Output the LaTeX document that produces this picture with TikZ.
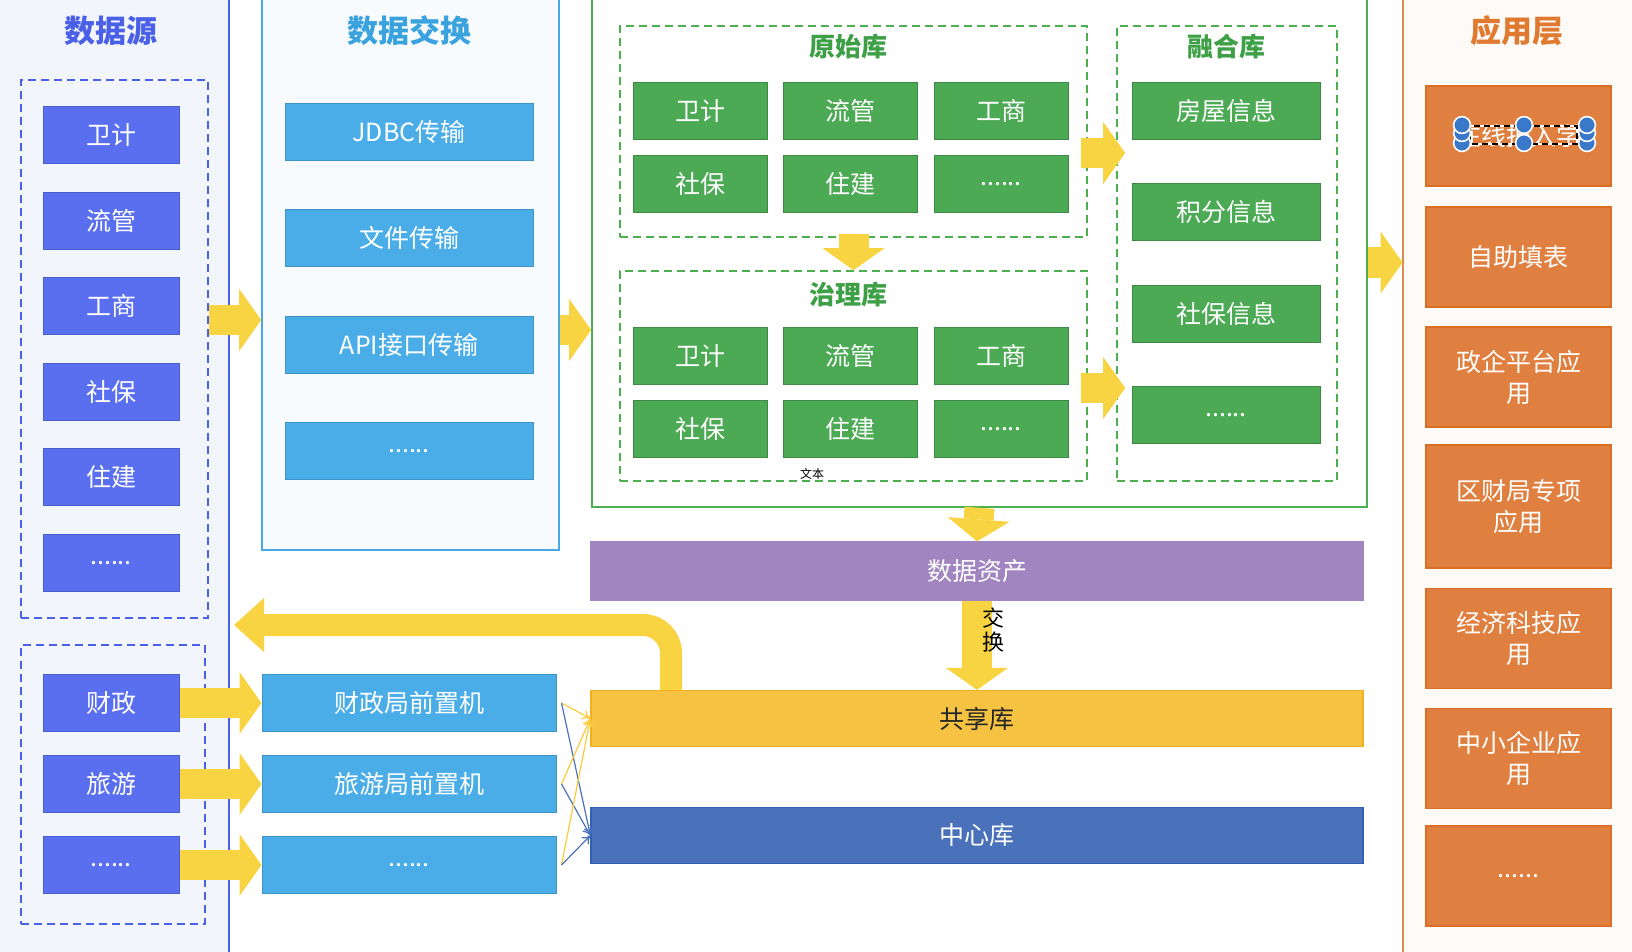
\documentclass[tikz,border=0pt]{standalone}
\usepackage{fontspec}
\setmainfont{Noto Sans CJK SC}
\usetikzlibrary{arrows.meta,positioning}

\definecolor{srcbg}{HTML}{F3F5FD}
\definecolor{srcblue}{HTML}{4A60E6}
\definecolor{srcfill}{HTML}{5A6FF0}
\definecolor{xchbg}{HTML}{F7FBFE}
\definecolor{xchedge}{HTML}{4AA8E6}
\definecolor{xchfill}{HTML}{4AADE8}
\definecolor{xchtitle}{HTML}{3AA3DE}
\definecolor{grnedge}{HTML}{4CAF50}
\definecolor{grnfill}{HTML}{4CAA55}
\definecolor{grntitle}{HTML}{3DA046}
\definecolor{assetfill}{HTML}{A085C0}
\definecolor{sharefill}{HTML}{F5C242}
\definecolor{shareedge}{HTML}{F2B01E}
\definecolor{corefill}{HTML}{4A72BA}
\definecolor{coreedge}{HTML}{2F60B5}
\definecolor{appbg}{HTML}{FEFAF7}
\definecolor{appfill}{HTML}{E08040}
\definecolor{appedge}{HTML}{DB6E24}
\definecolor{apptitle}{HTML}{E07A30}
\definecolor{flowyellow}{HTML}{F8D443}
\definecolor{handleblue}{HTML}{3A78C9}

\newcommand{\more}{......}

\tikzset{
  panel/.style={inner sep=0pt},
  group/.style={draw=#1, dashed, dash pattern=on 4pt off 2.5pt, line width=0.8pt, inner sep=0pt},
  title/.style={font=\fontsize{15.5}{18}\selectfont\bfseries},
  subtitle/.style={font=\fontsize{13}{15}\selectfont\bfseries, text=grntitle},
  srcbox/.style={fill=srcfill, draw=srcfill!85!black, line width=0.5pt, text=white,
    minimum width=68pt, minimum height=28.5pt, inner sep=0pt},
  xchbox/.style={fill=xchfill, draw=xchfill!85!black, line width=0.5pt, text=white,
    minimum height=28.5pt, inner sep=0pt},
  grnbox/.style={fill=grnfill, draw=grnfill!80!black, line width=0.5pt, text=white,
    minimum width=67pt, minimum height=28.5pt, inner sep=0pt},
  bar/.style={minimum width=386pt, minimum height=28pt, inner sep=0pt, line width=0.6pt},
  appbox/.style={fill=appfill, draw=appedge, line width=0.6pt, text=white, align=center,
    minimum width=92.5pt, inner sep=0pt},
  flow/.style={draw=flowyellow, line width=15pt, -{Triangle[length=11pt,width=31pt,line width=0pt]}},
  thinflow/.style={line width=0.6pt, -{To[length=4pt,width=5pt]}},
  handle/.style={fill=handleblue, draw=white, line width=0.8pt}
}

\begin{document}
\begin{tikzpicture}[x=0.5pt,y=-0.5pt,font=\fontsize{12.5}{15.5}\selectfont]
\useasboundingbox (0,0) rectangle (1632,952);

\node[panel, fill=srcbg, minimum width=114.5pt, minimum height=476pt] (srcP) at (114.5,476) {};
\draw[srcblue, line width=1pt] (srcP.north east) -- (srcP.south east);
\node[panel, fill=xchbg, draw=xchedge, line width=0.8pt, minimum width=148.5pt, minimum height=276pt] (xchP) at (410.5,274) {};
\node[panel, fill=white, draw=grnedge, line width=0.8pt, minimum width=387.5pt, minimum height=254.5pt] (grnP) at (979.5,252.5) {};
\node[panel, fill=appbg, minimum width=114.5pt, minimum height=476pt] (appP) at (1517.5,476) {};
\draw[appedge!80, line width=1pt] (appP.north west) -- (appP.south west);

\node[title, text=srcblue] (srcT) at (111,31) {数据源};
\node[title, text=xchtitle] (xchT) at (409,31) {数据交换};
\node[title, text=apptitle] (appT) at (1517,31) {应用层};

\node[group=srcblue, minimum width=93.5pt, minimum height=269pt] (g1) at (114.5,349) {};
\node[group=srcblue, minimum width=92pt, minimum height=139.5pt] (g2) at (113,784.5) {};
\node[group=grnedge, minimum width=233.5pt, minimum height=105.5pt] (raw) at (853.5,131.5) {};
\node[group=grnedge, minimum width=233.5pt, minimum height=105pt] (gov) at (853.5,376) {};
\node[group=grnedge, minimum width=110pt, minimum height=227.5pt] (fuse) at (1227,253.5) {};
\node[subtitle] (rawT) at (848,47) {原始库};
\node[subtitle] (govT) at (848,295) {治理库};
\node[subtitle] (fuseT) at (1226,47) {融合库};

\foreach \t [count=\i] in {卫计,流管,工商,社保,住建,\more}
  \node[srcbox] (src\i) at ({111},{135+85.6*(\i-1)}) {\t};
\foreach \t [count=\i] in {财政,旅游,\more}
  \node[srcbox] (dep\i) at ({111},{703+81*(\i-1)}) {\t};

\foreach \t [count=\i] in {JDBC传输,文件传输,API接口传输,\more}
  \node[xchbox, minimum width=124pt] (xch\i) at ({409},{132+106.3*(\i-1)}) {\t};
\foreach \t [count=\i] in {财政局前置机,旅游局前置机,\more}
  \node[xchbox, minimum width=147pt] (pre\i) at ({409},{703+81*(\i-1)}) {\t};

\foreach \t [count=\i from 0] in {卫计,流管,工商,社保,住建,\more}{
  \pgfmathsetmacro\cx{700+150.5*mod(\i,3)}
  \pgfmathsetmacro\cy{111+73*int(\i/3)}
  \node[grnbox] (raw\i) at ({\cx},{\cy}) {\t};
  \node[grnbox] (gov\i) at ({\cx},{\cy+245}) {\t};
}
\foreach \t [count=\i] in {房屋信息,积分信息,社保信息,\more}
  \node[grnbox, minimum width=94pt] (fuse\i) at ({1226},{111+101.3*(\i-1)}) {\t};
\node[font=\fontsize{6}{7}\selectfont] (memo) at (812,474) {文本};

\node[bar, fill=assetfill, draw=assetfill, text=white, minimum height=29pt] (asset) at (977,571) {数据资产};
\node[bar, fill=sharefill, draw=shareedge, text=black!85] (share) at (977,718.5) {共享库};
\node[bar, fill=corefill, draw=coreedge, text=white] (core) at (977,835.5) {中心库};

\foreach \y/\h/\t [count=\i] in {136/50/在线报入学, 257/50/自助填表, 377/50/{政企平台应\\用},
    506.5/61.5/{区财局专项\\应用}, 638.5/50/{经济科技应\\用}, 758.5/50/{中小企业应\\用}, 876/50/\more}
  \node[appbox, minimum height=\h pt] (app\i) at (1518.5,\y) {\t};

\draw[white, line width=1pt] (1470,126) rectangle (1577,144);
\draw[black, line width=0.6pt, dash pattern=on 3pt off 2pt] (1470,126) rectangle (1577,144);
\foreach \hx/\hy in {1462/143,1462/133,1462/125,1524/143,1524/125,1587/143,1587/133,1587/125}
  \draw[handle] (\hx,\hy) circle[radius=4.2pt];

\draw[flow] ([yshift=14.5pt]g1.east) -- ([yshift=14.5pt]g1.east -| xchP.west);
\draw[flow] ([yshift=-28pt]xchP.east) -- ([yshift=-28pt]xchP.east -| grnP.west);
\draw[flow, shorten <=-3.5pt, shorten >=-4.5pt] ([yshift=-10.75pt]raw.east) -- ([yshift=-10.75pt]raw.east -| fuse.west);
\draw[flow, shorten <=-3.5pt, shorten >=-4.5pt] ([yshift=-6pt]gov.east) -- ([yshift=-6pt]gov.east -| fuse.west);
\draw[flow, shorten <=-2pt] (raw.south) -- (gov.north);
\draw[flow] ([yshift=-5pt]grnP.east) -- ([yshift=-5pt]grnP.east -| appP.west);
\draw[flow] (grnP.south) -- (asset.north);
\draw[flow] (asset.south) -- node[xshift=8pt, yshift=7.5pt, align=center, text=black,
  inner sep=0pt, font=\fontsize{11}{12}\selectfont] (swap) {交\\换} (share.north);
\coordinate (back) at (234,625);
\draw[flow, line width=11pt, rounded corners=14pt, -{Triangle[length=15pt,width=27pt,line width=0pt]}]
  ([xshift=-153pt]share.north) |- (back);
\foreach \i in {1,2,3}{
  \draw[flow] (dep\i.east) -- (pre\i.west);
  \draw[thinflow, flowyellow!90!orange] ([xshift=2.5pt]pre\i.east) -- (share.west);
  \draw[thinflow, corefill] ([xshift=2.5pt]pre\i.east) -- (core.west);
}
\end{tikzpicture}
\end{document}
